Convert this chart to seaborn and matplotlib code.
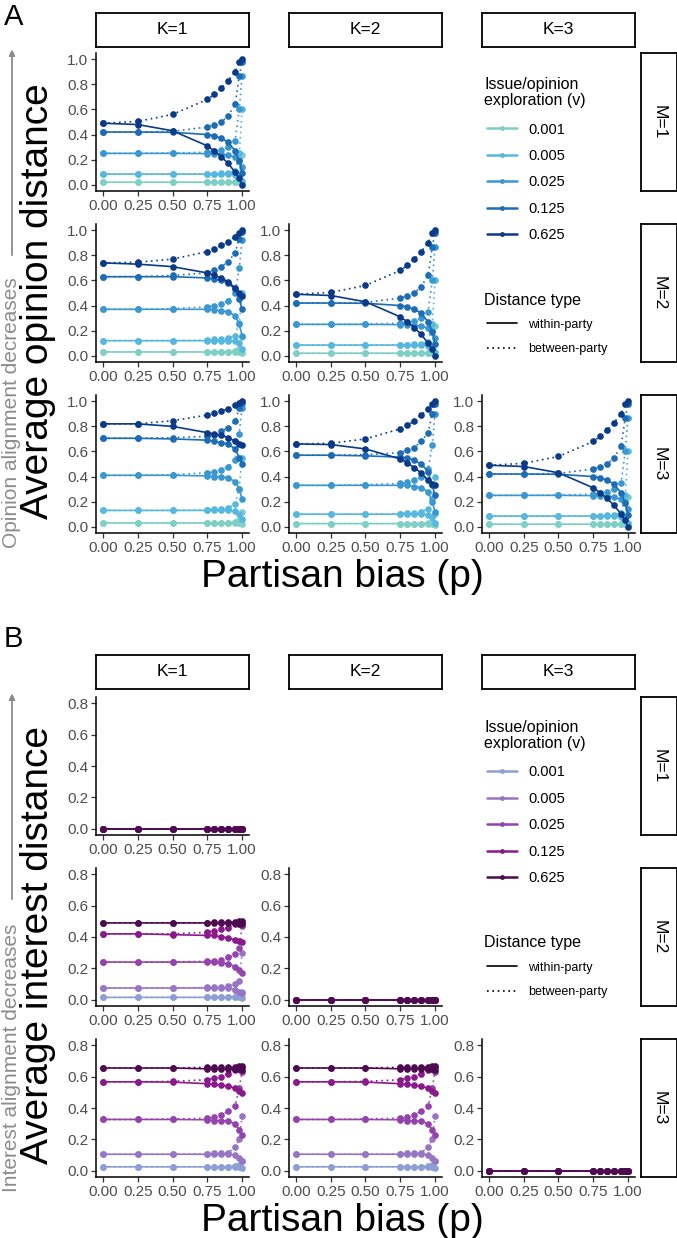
import numpy as np
import pandas as pd
import seaborn as sns
import matplotlib.pyplot as plt
from matplotlib.lines import Line2D

# partisan bias values on the x axis
P_VALUES = [0.0, 0.25, 0.5, 0.75, 0.8, 0.85, 0.9, 0.95, 0.98, 1.0]
V_LABELS = ["0.001", "0.005", "0.025", "0.125", "0.625"]
TYPES = ["within-party", "between-party"]

# --- panel A: opinion distance, one row per v (0.001 .. 0.625) ---
A_DIAG_WITHIN = [
    [0.02, 0.02, 0.02, 0.02, 0.02, 0.02, 0.02, 0.02, 0.02, 0.01],
    [0.085, 0.085, 0.085, 0.085, 0.085, 0.085, 0.085, 0.08, 0.075, 0.03],
    [0.25, 0.25, 0.25, 0.248, 0.246, 0.243, 0.235, 0.22, 0.2, 0.14],
    [0.42, 0.42, 0.418, 0.40, 0.39, 0.37, 0.34, 0.27, 0.19, 0.09],
    [0.49, 0.48, 0.43, 0.31, 0.27, 0.225, 0.17, 0.10, 0.05, 0.0],
]
A_DIAG_BETWEEN = [
    [0.02, 0.02, 0.02, 0.02, 0.02, 0.022, 0.023, 0.025, 0.05, 0.24],
    [0.085, 0.085, 0.085, 0.087, 0.088, 0.09, 0.093, 0.11, 0.25, 0.6],
    [0.25, 0.25, 0.252, 0.26, 0.265, 0.275, 0.30, 0.35, 0.6, 0.87],
    [0.42, 0.42, 0.425, 0.46, 0.48, 0.50, 0.55, 0.64, 0.87, 0.98],
    [0.49, 0.505, 0.56, 0.68, 0.72, 0.77, 0.83, 0.90, 0.98, 1.0],
]
A_K1M2_WITHIN = [
    [0.03, 0.03, 0.03, 0.03, 0.03, 0.03, 0.03, 0.03, 0.03, 0.02],
    [0.12, 0.12, 0.12, 0.12, 0.12, 0.12, 0.12, 0.115, 0.10, 0.05],
    [0.37, 0.37, 0.37, 0.37, 0.365, 0.36, 0.35, 0.32, 0.25, 0.16],
    [0.63, 0.63, 0.63, 0.62, 0.61, 0.60, 0.58, 0.53, 0.45, 0.37],
    [0.74, 0.73, 0.71, 0.66, 0.64, 0.62, 0.59, 0.54, 0.50, 0.48],
]
A_K1M2_BETWEEN = [
    [0.03, 0.03, 0.03, 0.03, 0.03, 0.03, 0.03, 0.035, 0.05, 0.15],
    [0.12, 0.12, 0.12, 0.125, 0.13, 0.13, 0.14, 0.16, 0.26, 0.5],
    [0.37, 0.37, 0.375, 0.39, 0.40, 0.41, 0.44, 0.50, 0.70, 0.92],
    [0.63, 0.63, 0.64, 0.66, 0.68, 0.71, 0.75, 0.82, 0.93, 0.99],
    [0.74, 0.745, 0.77, 0.83, 0.85, 0.88, 0.91, 0.95, 0.98, 1.0],
]
A_K1M3_WITHIN = [
    [0.03, 0.03, 0.03, 0.03, 0.03, 0.03, 0.03, 0.03, 0.03, 0.02],
    [0.13, 0.13, 0.13, 0.13, 0.13, 0.13, 0.13, 0.125, 0.10, 0.06],
    [0.41, 0.41, 0.41, 0.405, 0.40, 0.40, 0.39, 0.36, 0.30, 0.22],
    [0.705, 0.705, 0.70, 0.69, 0.68, 0.67, 0.66, 0.62, 0.55, 0.50],
    [0.82, 0.82, 0.80, 0.75, 0.74, 0.73, 0.71, 0.68, 0.66, 0.65],
]
A_K1M3_BETWEEN = [
    [0.03, 0.03, 0.03, 0.03, 0.03, 0.03, 0.03, 0.035, 0.05, 0.12],
    [0.13, 0.13, 0.13, 0.135, 0.14, 0.14, 0.15, 0.18, 0.30, 0.55],
    [0.41, 0.41, 0.415, 0.43, 0.44, 0.45, 0.48, 0.53, 0.74, 0.95],
    [0.705, 0.705, 0.71, 0.72, 0.73, 0.76, 0.79, 0.84, 0.95, 0.99],
    [0.82, 0.82, 0.845, 0.89, 0.91, 0.92, 0.94, 0.97, 0.99, 1.0],
]
A_K2M3_WITHIN = [
    [0.025, 0.025, 0.025, 0.025, 0.025, 0.025, 0.025, 0.025, 0.025, 0.015],
    [0.10, 0.10, 0.10, 0.10, 0.10, 0.10, 0.10, 0.095, 0.08, 0.03],
    [0.33, 0.33, 0.33, 0.33, 0.33, 0.32, 0.31, 0.28, 0.20, 0.12],
    [0.57, 0.57, 0.565, 0.555, 0.55, 0.53, 0.50, 0.44, 0.33, 0.25],
    [0.66, 0.655, 0.62, 0.54, 0.51, 0.47, 0.43, 0.37, 0.34, 0.33],
]
A_K2M3_BETWEEN = [
    [0.025, 0.025, 0.025, 0.025, 0.025, 0.025, 0.025, 0.03, 0.04, 0.1],
    [0.10, 0.10, 0.10, 0.105, 0.11, 0.11, 0.12, 0.14, 0.22, 0.4],
    [0.33, 0.33, 0.335, 0.345, 0.355, 0.37, 0.40, 0.46, 0.65, 0.9],
    [0.57, 0.57, 0.575, 0.59, 0.61, 0.63, 0.68, 0.75, 0.90, 0.98],
    [0.66, 0.665, 0.70, 0.78, 0.81, 0.84, 0.89, 0.94, 0.98, 1.0],
]

# --- panel B: interest distance ---
B_ZERO = [[0.0] * 10 for _ in range(5)]
B_K1M2_WITHIN = [
    [0.015, 0.015, 0.015, 0.015, 0.015, 0.015, 0.015, 0.015, 0.015, 0.01],
    [0.075, 0.075, 0.075, 0.075, 0.075, 0.075, 0.075, 0.065, 0.05, 0.04],
    [0.24, 0.24, 0.24, 0.24, 0.24, 0.235, 0.23, 0.21, 0.19, 0.17],
    [0.42, 0.42, 0.415, 0.41, 0.41, 0.40, 0.395, 0.38, 0.375, 0.365],
    [0.49, 0.49, 0.49, 0.49, 0.49, 0.49, 0.49, 0.49, 0.485, 0.48],
]
B_K1M2_BETWEEN = [
    [0.015, 0.015, 0.015, 0.015, 0.015, 0.015, 0.015, 0.02, 0.03, 0.05],
    [0.075, 0.075, 0.075, 0.078, 0.08, 0.08, 0.085, 0.10, 0.12, 0.3],
    [0.24, 0.24, 0.242, 0.245, 0.25, 0.255, 0.27, 0.29, 0.33, 0.47],
    [0.42, 0.42, 0.42, 0.43, 0.44, 0.45, 0.46, 0.48, 0.49, 0.495],
    [0.49, 0.49, 0.49, 0.49, 0.495, 0.495, 0.495, 0.495, 0.50, 0.50],
]
B_K1M3_WITHIN = [
    [0.025, 0.025, 0.025, 0.025, 0.025, 0.025, 0.025, 0.025, 0.025, 0.015],
    [0.105, 0.105, 0.105, 0.105, 0.105, 0.105, 0.105, 0.10, 0.08, 0.06],
    [0.327, 0.327, 0.327, 0.325, 0.32, 0.32, 0.315, 0.30, 0.26, 0.225],
    [0.567, 0.567, 0.565, 0.555, 0.55, 0.545, 0.54, 0.525, 0.51, 0.495],
    [0.655, 0.655, 0.655, 0.65, 0.65, 0.65, 0.65, 0.65, 0.65, 0.645],
]
B_K1M3_BETWEEN = [
    [0.025, 0.025, 0.025, 0.025, 0.025, 0.025, 0.025, 0.03, 0.035, 0.06],
    [0.105, 0.105, 0.105, 0.108, 0.11, 0.11, 0.115, 0.15, 0.2, 0.35],
    [0.327, 0.327, 0.33, 0.335, 0.34, 0.355, 0.38, 0.41, 0.53, 0.63],
    [0.567, 0.567, 0.57, 0.58, 0.59, 0.60, 0.62, 0.64, 0.65, 0.66],
    [0.655, 0.655, 0.655, 0.66, 0.66, 0.66, 0.66, 0.66, 0.665, 0.665],
]

BLUES = ["#7ECFC4", "#56B8DF", "#3A98D0", "#1D6CB6", "#0B3A88"]
PURPLES = ["#8C9FD5", "#9775C4", "#9443AC", "#8A1A8C", "#4E0A50"]

# (K, M) -> (within, between)
PANELS_A = {
    (1, 1): (A_DIAG_WITHIN, A_DIAG_BETWEEN),
    (1, 2): (A_K1M2_WITHIN, A_K1M2_BETWEEN),
    (2, 2): (A_DIAG_WITHIN, A_DIAG_BETWEEN),
    (1, 3): (A_K1M3_WITHIN, A_K1M3_BETWEEN),
    (2, 3): (A_K2M3_WITHIN, A_K2M3_BETWEEN),
    (3, 3): (A_DIAG_WITHIN, A_DIAG_BETWEEN),
}
PANELS_B = {
    (1, 1): (B_ZERO, B_ZERO),
    (1, 2): (B_K1M2_WITHIN, B_K1M2_BETWEEN),
    (2, 2): (B_ZERO, B_ZERO),
    (1, 3): (B_K1M3_WITHIN, B_K1M3_BETWEEN),
    (2, 3): (B_K1M3_WITHIN, B_K1M3_BETWEEN),
    (3, 3): (B_ZERO, B_ZERO),
}


def to_frame(panels):
    recs = []
    for (k, m), (within, between) in panels.items():
        for t, arr in zip(TYPES, (within, between)):
            for i, v in enumerate(V_LABELS):
                for p, d in zip(P_VALUES, arr[i]):
                    recs.append({"K": k, "M": m, "v": v, "type": t, "p": p, "dist": d})
    return pd.DataFrame(recs)


sns.set_theme(style="ticks")
plt.rcParams["font.family"] = ["Liberation Sans", "DejaVu Sans"]
plt.rcParams["text.color"] = "black"

W, H = 677, 1238
fig = plt.figure(figsize=(W / 100, H / 100), dpi=100)


def rect(x0, y0, x1, y1):
    return [x0 / W, 1 - y1 / H, (x1 - x0) / W, (y1 - y0) / H]


COL_X = [96, 289, 482]
PANEL_W = 153
PANEL_H = 138
GRAY = "#4D4D4D"


def strip(x0, y0, x1, y1, label, rot=0):
    sa = fig.add_axes(rect(x0, y0, x1, y1))
    sa.set_xticks([])
    sa.set_yticks([])
    sa.set_facecolor("white")
    for s in sa.spines.values():
        s.set_linewidth(1.3)
        s.set_color("black")
    sa.text(0.5, 0.5, label, ha="center", va="center", rotation=rot,
            fontsize=12.5, color="black", transform=sa.transAxes)


def draw_part(df, row_tops, strip_y, palette, ylim, yticks, ylabel, note, letter, letter_y, y_off):
    for j, k in enumerate([1, 2, 3]):
        strip(COL_X[j], strip_y, COL_X[j] + PANEL_W, strip_y + 34, f"K={k}")
    for i, m in enumerate([1, 2, 3]):
        top = row_tops[i]
        strip(641, top, 677, top + PANEL_H, f"M={m}", rot=-90)
        for j, k in enumerate([1, 2, 3]):
            if k > m:
                continue
            ax = fig.add_axes(rect(COL_X[j], top, COL_X[j] + PANEL_W, top + PANEL_H))
            sub = df[(df.K == k) & (df.M == m)]
            sns.lineplot(data=sub, x="p", y="dist", hue="v", style="type",
                         hue_order=V_LABELS, style_order=TYPES, palette=palette,
                         dashes={"within-party": "", "between-party": (1, 2.2)},
                         markers={"within-party": "o", "between-party": "o"},
                         markersize=4.8, markeredgewidth=0, linewidth=1.2,
                         errorbar=None, legend=False, ax=ax)
            ax.set_xlim(-0.05, 1.05)
            ax.set_ylim(*ylim)
            ax.set_xticks([0, 0.25, 0.5, 0.75, 1.0])
            ax.set_xticklabels([f"{t:.2f}" for t in [0, 0.25, 0.5, 0.75, 1.0]])
            ax.set_yticks(yticks)
            ax.set_yticklabels([f"{t:.1f}" for t in yticks])
            ax.set_xlabel("")
            ax.set_ylabel("")
            sns.despine(ax=ax)
            for s in ("left", "bottom"):
                ax.spines[s].set_linewidth(1.1)
                ax.spines[s].set_color("black")
            ax.tick_params(length=3.5, width=0.9, color="#333333", labelsize=11,
                           labelcolor=GRAY, pad=2)
            ax.set_facecolor("none")

    mid = (row_tops[0] + row_tops[2] + PANEL_H) / 2
    fig.text(38 / W, 1 - (mid + 8) / H, ylabel, rotation=90, ha="center", va="center", fontsize=28)
    fig.text(342 / W, 1 - (row_tops[2] + PANEL_H + 44) / H, "Partisan bias (p)",
             ha="center", va="center", fontsize=28)
    fig.text(4 / W, 1 - letter_y / H, letter, ha="left", va="center", fontsize=21)

    # gray note with upward arrow
    bottom = row_tops[2] + PANEL_H + 15
    fig.text(12 / W, 1 - bottom / H, note, rotation=90, ha="center", va="bottom",
             fontsize=15, color="#8C8C8C")
    fig.add_artist(plt.annotate("", xy=(12 / W, 1 - (row_tops[0] - 6) / H),
                                xytext=(12 / W, 1 - (bottom - 290) / H),
                                xycoords="figure fraction", textcoords="figure fraction",
                                arrowprops=dict(arrowstyle="-|>", color="#8C8C8C", lw=1.0,
                                                mutation_scale=9)))

    # legends
    fig.text(484 / W, 1 - (77 + y_off) / H, "Issue/opinion\nexploration (v)", ha="left", va="top",
             fontsize=11.5, linespacing=1.05)
    h1 = [Line2D([], [], color=c, lw=1.8, marker="o", markersize=3.5, markeredgewidth=0)
          for c in palette]
    fig.legend(h1, V_LABELS, loc="upper left", bbox_to_anchor=(487 / W, 1 - (122.5 + y_off) / H),
               frameon=False, fontsize=10.5, labelspacing=0.85, handlelength=2.05,
               handletextpad=0.8, borderpad=0, borderaxespad=0)
    fig.text(484 / W, 1 - (300 + y_off) / H, "Distance type", ha="left", va="center", fontsize=11.5)
    h2 = [Line2D([], [], color="black", lw=1.2),
          Line2D([], [], color="black", lw=1.2, dashes=(1, 2.2))]
    fig.legend(h2, TYPES, loc="upper left", bbox_to_anchor=(487 / W, 1 - (318.5 + y_off) / H),
               frameon=False, fontsize=9, labelspacing=1.0, handlelength=2.4,
               handletextpad=0.9, borderpad=0, borderaxespad=0)


df_a = to_frame(PANELS_A)
df_b = to_frame(PANELS_B)

draw_part(df_a, [53, 224, 395], 13, BLUES, (-0.05, 1.05), [0, 0.2, 0.4, 0.6, 0.8, 1.0],
          "Average opinion distance", "Opinion alignment decreases", "A", 17, 0)
draw_part(df_b, [697, 868, 1039], 655, PURPLES, (-0.04, 0.84), [0, 0.2, 0.4, 0.6, 0.8],
          "Average interest distance", "Interest alignment decreases", "B", 639, 643)

fig.savefig("out.png", dpi=100)
